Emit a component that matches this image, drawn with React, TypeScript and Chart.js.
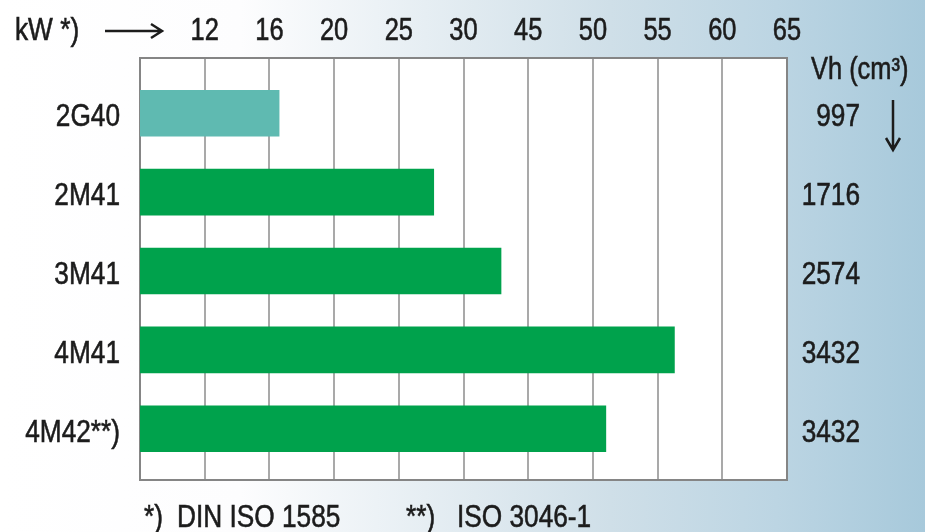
import React, { useEffect, useRef } from 'react';
import { Chart, registerables } from 'chart.js';

Chart.register(...registerables);

// ---- data ----
const engines = ['2G40', '2M41', '3M41', '4M41', '4M42**)'];
const powerKW = [16.6, 27.7, 38.7, 56.3, 51.0];
const displacement = ['997', '1716', '2574', '3432', '3432'];
const kwTickLabels = [12, 16, 20, 25, 30, 45, 50, 55, 60, 65];
const kwAxisOrigin = 8;
const barColors = ['#5fbab1', '#00a24c', '#00a24c', '#00a24c', '#00a24c'];

const kwTitle = 'kW *)';
const vhTitle = 'Vh (cm³)';
const note1Mark = '*)';
const note1Text = 'DIN ISO 1585';
const note2Mark = '**)';
const note2Text = 'ISO 3046-1';

const FONT = "'Liberation Sans', Arial, sans-serif";
const NARROW = 0.82; // condensed lettering
const TEXT = '#1c1c1c';

// the kW axis is not linear: each tick is one equal step
function toAxisPosition(kw: number): number {
  const stops = [kwAxisOrigin, ...kwTickLabels];
  for (let i = 1; i < stops.length; i++) {
    if (kw <= stops[i]) return i - 1 + (kw - stops[i - 1]) / (stops[i] - stops[i - 1]);
  }
  return stops.length - 1;
}

function narrowText(ctx: CanvasRenderingContext2D, text: string, x: number, y: number, align: CanvasTextAlign, size = 32) {
  ctx.save();
  ctx.translate(x, y);
  ctx.scale(NARROW, 1);
  ctx.font = `${size}px ${FONT}`;
  ctx.textAlign = align;
  ctx.textBaseline = 'alphabetic';
  ctx.fillStyle = TEXT;
  ctx.strokeStyle = TEXT;
  ctx.lineWidth = 0.6;
  ctx.fillText(text, 0, 0);
  ctx.strokeText(text, 0, 0);
  ctx.restore();
}

const extras = {
  id: 'extras',
  beforeDraw(chart: any) {
    const { ctx, chartArea: a } = chart;
    ctx.save();
    ctx.fillStyle = '#ffffff';
    ctx.fillRect(a.left, a.top, a.right - a.left, a.bottom - a.top);
    ctx.restore();
  },
  beforeDatasetsDraw(chart: any) {
    const { ctx, chartArea: a } = chart;
    ctx.save();
    ctx.strokeStyle = '#858585';
    ctx.lineWidth = 2;
    ctx.strokeRect(a.left, a.top, a.right - a.left, a.bottom - a.top);
    ctx.restore();
  },
  afterDraw(chart: any) {
    const { ctx, chartArea: a } = chart;
    const xs = chart.scales.x;
    const ys = chart.scales.y;
    // top kW tick labels
    kwTickLabels.forEach((t, i) => {
      narrowText(ctx, String(t), xs.getPixelForValue(i + 1), 40, 'center', 31);
    });
    // engine names (left) and displacement (right)
    engines.forEach((name, i) => {
      const y = ys.getPixelForValue(i) + 13;
      narrowText(ctx, name, a.left - 20, y, 'right');
      narrowText(ctx, displacement[i], 860, y, 'right');
    });
    narrowText(ctx, kwTitle, 15, 40, 'left');
    narrowText(ctx, vhTitle, 811, 79, 'left', 31);
    narrowText(ctx, note1Mark, 144, 527, 'left');
    narrowText(ctx, note1Text, 177, 527, 'left');
    narrowText(ctx, note2Mark, 406, 527, 'left');
    narrowText(ctx, note2Text, 457, 527, 'left');

    ctx.save();
    ctx.strokeStyle = TEXT;
    ctx.lineWidth = 2.5;
    // right arrow
    ctx.beginPath();
    ctx.moveTo(105, 31);
    ctx.lineTo(162, 31);
    ctx.moveTo(151, 24);
    ctx.lineTo(162, 31);
    ctx.lineTo(151, 38);
    ctx.stroke();
    // down arrow
    ctx.beginPath();
    ctx.moveTo(893, 100);
    ctx.lineTo(893, 150);
    ctx.moveTo(886, 138);
    ctx.lineTo(893, 150);
    ctx.lineTo(900, 138);
    ctx.stroke();
    ctx.restore();
  },
};

export default function App() {
  const ref = useRef<HTMLCanvasElement>(null);
  useEffect(() => {
    if (!ref.current) return;
    const rowTicks = (s: any) => {
      s.ticks = engines.map((_, i) => ({ value: i }));
    };
    const rowAxis = (position: string, width: number) => ({
      type: 'linear',
      position,
      reverse: true,
      min: -0.7,
      max: 4.65,
      bounds: 'data',
      offset: false,
      grace: 0,
      afterBuildTicks: rowTicks,
      ticks: { display: false },
      grid: { display: false, drawTicks: false, offset: false },
      border: { display: false },
      afterFit: (s: any) => {
        s.width = width;
      },
    });
    const chart = new Chart(ref.current, {
      type: 'bar',
      data: {
        datasets: [
          {
            data: powerKW.map((kw, i) => ({ x: toAxisPosition(kw), y: i })),
            backgroundColor: barColors,
            borderWidth: 0,
            barThickness: 46,
            yAxisID: 'y',
          },
        ],
      },
      options: {
        indexAxis: 'y',
        animation: false,
        responsive: false,
        maintainAspectRatio: false,
        layout: { padding: { left: 0, right: 65, top: 0, bottom: 52 } },
        plugins: { legend: { display: false }, tooltip: { enabled: false } },
        scales: {
          x: {
            type: 'linear',
            position: 'top',
            min: 0,
            max: kwTickLabels.length,
            afterBuildTicks: (s: any) => {
              s.ticks = kwTickLabels.map((_, i) => ({ value: i + 1 }));
            },
            ticks: { display: false, autoSkip: false },
            grid: { color: '#a9a9a9', lineWidth: 2, drawTicks: false },
            border: { display: false },
            afterFit: (s: any) => {
              s.height = 58;
            },
          },
          y: rowAxis('left', 140),
          y2: rowAxis('right', 73),
        },
      } as any,
      plugins: [extras],
    });
    return () => chart.destroy();
  }, []);

  return (
    <div
      style={{
        position: 'fixed',
        left: 0,
        top: 0,
        width: 925,
        height: 532,
        background:
          'linear-gradient(90deg, #ffffff 0%, #fdfdfe 26%, #e6eef3 46%, #cfdfe8 66%, #bcd5e3 84%, #a7c9db 100%)',
      }}
    >
      <canvas ref={ref} width={925} height={532} style={{ width: 925, height: 532, display: 'block' }} />
    </div>
  );
}
